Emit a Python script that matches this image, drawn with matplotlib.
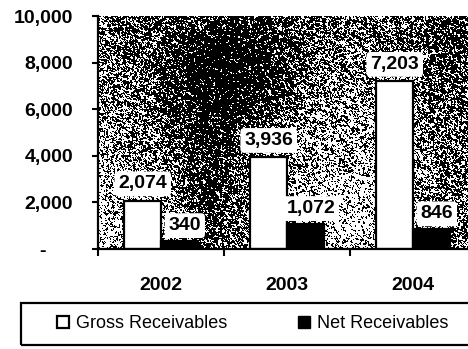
import numpy as np
import matplotlib
matplotlib.use("Agg")
import matplotlib.pyplot as plt
from matplotlib.patches import Patch, Rectangle

plt.rcParams['font.family'] = ['Liberation Sans', 'DejaVu Sans']

years = ["2002", "2003", "2004"]
gross = [2074, 3936, 7203]
net = [340, 1072, 846]
yticks = [0, 2000, 4000, 6000, 8000, 10000]

fig = plt.figure(figsize=(4.68, 3.49), dpi=100)
ax = fig.add_axes([98 / 468, 1 - 249 / 349, 378 / 468, 233 / 349])

# speckled gradient backdrop (pixel grid of the plot area)
W, H = 378, 233
px, py = np.meshgrid(np.arange(W) + 98, np.arange(H) + 17)
light = np.full((H, W), 0.40)
blobs = [
    (230, 70, 55, 60, -0.35),
    (205, 195, 22, 45, -0.25),
    (135, 95, 20, 30, 0.12),
    (130, 210, 40, 45, 0.30),
    (340, 170, 45, 70, 0.30),
    (350, 225, 25, 25, 0.20),
    (455, 50, 30, 45, -0.15),
    (265, 200, 20, 40, 0.10),
    (101, 130, 6, 200, 0.15),
]
for cx, cy, sx, sy, amp in blobs:
    light += amp * np.exp(-((px - cx) ** 2 / (2 * sx ** 2) + (py - cy) ** 2 / (2 * sy ** 2)))
light = np.clip(light, 0.03, 0.9)

# grainy noise: smooth a little, then map back to uniform ranks
rng = np.random.default_rng(7)
raw = rng.random((H + 1, W + 1))
sm = raw[:-1, :-1] + raw[1:, :-1] + raw[:-1, 1:] + raw[1:, 1:] + 2 * raw[:-1, :-1]
rank = np.argsort(np.argsort(sm.ravel())).reshape(H, W) / sm.size
tex = (rank < light).astype(float)
ax.imshow(tex, cmap="gray", vmin=0, vmax=1, extent=(-0.5, 2.5, 0, 10000),
          aspect="auto", interpolation="nearest", zorder=0)

x = np.arange(len(years))
w = 0.29
ax.bar(x - w / 2, gross, w, color="white", edgecolor="black", linewidth=1.6, zorder=2)
ax.bar(x + w / 2, net, w, color="black", edgecolor="black", linewidth=1.6, zorder=2)

box = dict(boxstyle="round,pad=0.2", fc="white", ec="none")
for i in range(len(years)):
    ax.annotate(f"{gross[i]:,}", (x[i] - w / 2, gross[i]), xytext=(0, 6),
                textcoords="offset points", ha="center", va="bottom",
                fontsize=14, fontweight="bold", bbox=box, zorder=3)
    ax.annotate(f"{net[i]:,}", (x[i] + w / 2, net[i]), xytext=(4, 5),
                textcoords="offset points", ha="center", va="bottom",
                fontsize=14, fontweight="bold", bbox=box, zorder=3)

ax.set_xlim(-0.5, 2.5)
ax.set_ylim(0, 10000)
ax.set_yticks(yticks)
ax.set_yticklabels(["-     "] + [f"{v:,}" for v in yticks[1:]], fontsize=14, fontweight="bold")
ax.tick_params(axis="y", length=4, width=1.5, pad=14)

ax.set_xticks(x)
ax.set_xticklabels(years, fontsize=14, fontweight="bold")
ax.set_xticks([-0.5, 0.5, 1.5, 2.5], minor=True)
ax.tick_params(axis="x", which="major", length=0, pad=20)
ax.tick_params(axis="x", which="minor", length=5, width=1.5)

for s in ["top", "right"]:
    ax.spines[s].set_visible(False)
for s in ["left", "bottom"]:
    ax.spines[s].set_linewidth(1.6)

# legend frame runs off the right edge
fig.patches.append(Rectangle((21 / 468, 1 - 345 / 349), 500 / 468, 42 / 349,
                             transform=fig.transFigure, fill=False,
                             edgecolor="black", linewidth=1.6))
handles = [Patch(facecolor="white", edgecolor="black", linewidth=1.6, label="Gross Receivables"),
           Patch(facecolor="black", edgecolor="black", label="Net Receivables")]
fig.legend(handles=handles, loc="center left", bbox_to_anchor=(57 / 468, 1 - 324 / 349),
           ncol=2, frameon=False, fontsize=13, borderpad=0, borderaxespad=0,
           handlelength=0.67, handleheight=0.67, handletextpad=0.4, columnspacing=3.9)

fig.savefig("out.png", dpi=100)
